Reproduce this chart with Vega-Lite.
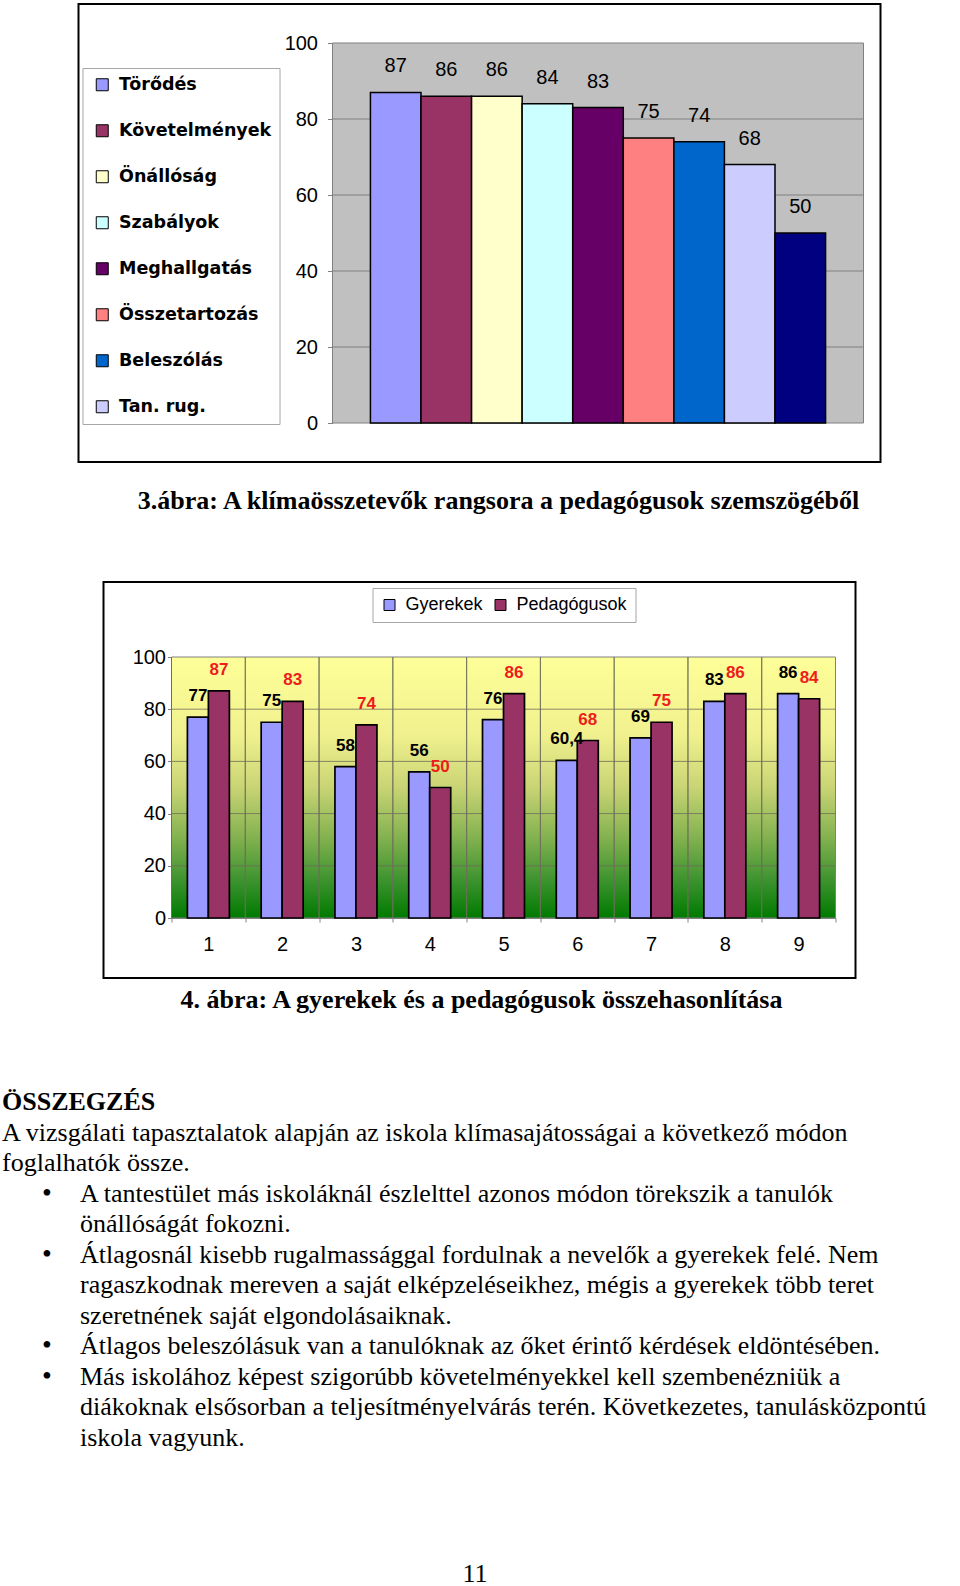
{
  "$schema": "https://vega.github.io/schema/vega-lite/v6.json",
  "background": "#ffffff",
  "padding": {"left": 0, "right": 0, "top": 3, "bottom": 0},
  "spacing": 66,
  "center": true,
  "resolve": {"scale": {"color": "independent"}, "legend": {"color": "independent"}},
  "datasets": {
    "pedagogus": [
      {"tenyezo": "Törődés", "ertek": 87},
      {"tenyezo": "Követelmények", "ertek": 86},
      {"tenyezo": "Önállóság", "ertek": 86},
      {"tenyezo": "Szabályok", "ertek": 84},
      {"tenyezo": "Meghallgatás", "ertek": 83},
      {"tenyezo": "Összetartozás", "ertek": 75},
      {"tenyezo": "Beleszólás", "ertek": 74},
      {"tenyezo": "Tan. rug.", "ertek": 68},
      {"tenyezo": "9.", "ertek": 50}
    ],
    "osszehasonlitas": [
      {"kat": "1", "csoport": "Gyerekek", "ertek": 77},
      {"kat": "1", "csoport": "Pedagógusok", "ertek": 87},
      {"kat": "2", "csoport": "Gyerekek", "ertek": 75},
      {"kat": "2", "csoport": "Pedagógusok", "ertek": 83},
      {"kat": "3", "csoport": "Gyerekek", "ertek": 58},
      {"kat": "3", "csoport": "Pedagógusok", "ertek": 74},
      {"kat": "4", "csoport": "Gyerekek", "ertek": 56},
      {"kat": "4", "csoport": "Pedagógusok", "ertek": 50},
      {"kat": "5", "csoport": "Gyerekek", "ertek": 76},
      {"kat": "5", "csoport": "Pedagógusok", "ertek": 86},
      {"kat": "6", "csoport": "Gyerekek", "ertek": 60.4},
      {"kat": "6", "csoport": "Pedagógusok", "ertek": 68},
      {"kat": "7", "csoport": "Gyerekek", "ertek": 69},
      {"kat": "7", "csoport": "Pedagógusok", "ertek": 75},
      {"kat": "8", "csoport": "Gyerekek", "ertek": 83},
      {"kat": "8", "csoport": "Pedagógusok", "ertek": 86},
      {"kat": "9", "csoport": "Gyerekek", "ertek": 86},
      {"kat": "9", "csoport": "Pedagógusok", "ertek": 84}
    ],
    "racs": [{"ertek": 20}, {"ertek": 40}, {"ertek": 60}, {"ertek": 80}],
    "szoveg": [
      {"sor": 0, "resz": "cim", "tipus": "bekezdes", "jel": false, "szoveg": "ÖSSZEGZÉS"},
      {"sor": 1, "resz": "torzs", "tipus": "bekezdes", "jel": false, "szoveg": "A vizsgálati tapasztalatok alapján az iskola klímasajátosságai a következő módon"},
      {"sor": 2, "resz": "torzs", "tipus": "bekezdes", "jel": false, "szoveg": "foglalhatók össze."},
      {"sor": 3, "resz": "torzs", "tipus": "pont", "jel": true, "szoveg": "A tantestület más iskoláknál észlelttel azonos módon törekszik a tanulók"},
      {"sor": 4, "resz": "torzs", "tipus": "pont", "jel": false, "szoveg": "önállóságát fokozni."},
      {"sor": 5, "resz": "torzs", "tipus": "pont", "jel": true, "szoveg": "Átlagosnál kisebb rugalmassággal fordulnak a nevelők a gyerekek felé. Nem"},
      {"sor": 6, "resz": "torzs", "tipus": "pont", "jel": false, "szoveg": "ragaszkodnak mereven a saját elképzeléseikhez, mégis a gyerekek több teret"},
      {"sor": 7, "resz": "torzs", "tipus": "pont", "jel": false, "szoveg": "szeretnének saját elgondolásaiknak."},
      {"sor": 8, "resz": "torzs", "tipus": "pont", "jel": true, "szoveg": "Átlagos beleszólásuk van a tanulóknak az őket érintő kérdések eldöntésében."},
      {"sor": 9, "resz": "torzs", "tipus": "pont", "jel": true, "szoveg": "Más iskolához képest szigorúbb követelményekkel kell szembenézniük a"},
      {"sor": 10, "resz": "torzs", "tipus": "pont", "jel": false, "szoveg": "diákoknak elsősorban a teljesítményelvárás terén. Következetes, tanulásközpontú"},
      {"sor": 11, "resz": "torzs", "tipus": "pont", "jel": false, "szoveg": "iskola vagyunk."}
    ]
  },
  "vconcat": [
    {
      "width": 802,
      "height": 458,
      "view": {"stroke": "#000000", "strokeWidth": 2},
      "title": {
        "text": "3.ábra: A klímaösszetevők rangsora a pedagógusok szemszögéből",
        "orient": "bottom", "anchor": "middle", "baseline": "alphabetic",
        "offset": 47, "dx": 19,
        "font": "Liberation Serif", "fontSize": 26, "fontWeight": "bold", "color": "#000000"
      },
      "resolve": {"scale": {"x": "independent"}},
      "layer": [
        {
          "data": {"values": [{}]},
          "mark": {"type": "rect", "fill": "#c0c0c0", "stroke": "#808080", "strokeWidth": 1},
          "encoding": {
            "x": {"datum": 0, "type": "quantitative", "scale": {"domain": [0, 1], "range": [254, 785]}, "axis": null},
            "x2": {"datum": 1},
            "y": {
              "datum": 0, "type": "quantitative",
              "scale": {"domain": [0, 100], "range": [419, 39], "nice": false},
              "axis": {
                "orient": "left", "offset": -254, "values": [0, 20, 40, 60, 80, 100],
                "grid": false, "domainColor": "#808080", "tickColor": "#808080",
                "tickSize": 5, "labelPadding": 10, "labelFontSize": 20,
                "labelFont": "Liberation Sans", "labelColor": "#000000", "title": null
              }
            },
            "y2": {"datum": 100}
          }
        },
        {
          "data": {"name": "racs"},
          "mark": {"type": "rule", "color": "#808080", "strokeWidth": 1},
          "encoding": {
            "x": {"datum": 0, "type": "quantitative", "scale": {"domain": [0, 1], "range": [254, 785]}, "axis": null},
            "x2": {"datum": 1},
            "y": {"field": "ertek", "type": "quantitative", "scale": {"domain": [0, 100], "range": [419, 39], "nice": false}}
          }
        },
        {
          "data": {"name": "pedagogus"},
          "encoding": {
            "x": {
              "field": "tenyezo", "type": "nominal", "sort": null,
              "scale": {"range": [254, 785], "paddingInner": 0, "paddingOuter": 0.75},
              "axis": null
            },
            "y": {"field": "ertek", "type": "quantitative", "scale": {"domain": [0, 100], "range": [419, 39], "nice": false}}
          },
          "layer": [
            {
              "mark": {"type": "bar", "stroke": "#000000", "strokeWidth": 1.5},
              "encoding": {
                "color": {
                  "field": "tenyezo", "type": "nominal",
                  "scale": {
                    "domain": ["Törődés", "Követelmények", "Önállóság", "Szabályok", "Meghallgatás", "Összetartozás", "Beleszólás", "Tan. rug.", "9."],
                    "range": ["#9999ff", "#993366", "#ffffcc", "#ccffff", "#660066", "#ff8080", "#0066cc", "#ccccff", "#000080"]
                  },
                  "legend": {
                    "orient": "none", "legendX": 4, "legendY": 64, "direction": "vertical",
                    "values": ["Törődés", "Követelmények", "Önállóság", "Szabályok", "Meghallgatás", "Összetartozás", "Beleszólás", "Tan. rug."],
                    "title": null, "padding": 8, "strokeColor": "#a6a6a6", "fillColor": "#ffffff",
                    "symbolType": "square", "symbolSize": 144, "symbolOffset": 3,
                    "symbolStrokeColor": "#000000", "symbolStrokeWidth": 1,
                    "labelFont": "DejaVu Sans", "labelFontWeight": "bold", "labelFontSize": 17.5,
                    "labelColor": "#000000", "labelOffset": 8, "labelLimit": 300, "rowPadding": 27
                  }
                }
              }
            },
            {
              "mark": {"type": "text", "dy": -26, "fontSize": 20, "font": "Liberation Sans", "baseline": "middle", "color": "#000000"},
              "encoding": {"text": {"field": "ertek", "type": "quantitative"}}
            }
          ]
        }
      ]
    },
    {
      "width": 752,
      "height": 396,
      "view": {"stroke": "#000000", "strokeWidth": 2},
      "title": {
        "text": "4. ábra: A gyerekek és a pedagógusok összehasonlítása",
        "orient": "bottom", "anchor": "middle", "baseline": "alphabetic",
        "offset": 30, "dx": 2,
        "font": "Liberation Serif", "fontSize": 26, "fontWeight": "bold", "color": "#000000"
      },
      "resolve": {"scale": {"x": "independent"}},
      "layer": [
        {
          "data": {"values": [{}]},
          "mark": {
            "type": "rect", "stroke": "#808080", "strokeWidth": 1,
            "fill": {
              "gradient": "linear", "x1": 0, "y1": 0, "x2": 0, "y2": 1,
              "stops": [
                {"offset": 0, "color": "#ffff99"},
                {"offset": 0.3, "color": "#f0f08e"},
                {"offset": 0.5, "color": "#c9d474"},
                {"offset": 0.7, "color": "#80b04e"},
                {"offset": 0.85, "color": "#3f9430"},
                {"offset": 1, "color": "#007a00"}
              ]
            }
          },
          "encoding": {
            "x": {"datum": 0, "type": "quantitative", "scale": {"domain": [0, 1], "range": [68, 732]}, "axis": null},
            "x2": {"datum": 1},
            "y": {
              "datum": 0, "type": "quantitative",
              "scale": {"domain": [0, 100], "range": [336, 75], "nice": false},
              "axis": {
                "orient": "left", "offset": -68, "values": [0, 20, 40, 60, 80, 100],
                "grid": false, "domainColor": "#808080", "tickColor": "#808080",
                "tickSize": 4, "labelPadding": 2, "labelFontSize": 20,
                "labelFont": "Liberation Sans", "labelColor": "#000000", "title": null
              }
            },
            "y2": {"datum": 100}
          }
        },
        {
          "data": {"name": "racs"},
          "mark": {"type": "rule", "color": "#6e6e5a", "strokeWidth": 1, "opacity": 0.8},
          "encoding": {
            "x": {"datum": 0, "type": "quantitative", "scale": {"domain": [0, 1], "range": [68, 732]}, "axis": null},
            "x2": {"datum": 1},
            "y": {"field": "ertek", "type": "quantitative", "scale": {"domain": [0, 100], "range": [336, 75], "nice": false}}
          }
        },
        {
          "data": {"name": "osszehasonlitas"},
          "encoding": {
            "x": {
              "field": "kat", "type": "ordinal",
              "scale": {"range": [68, 732], "paddingInner": 0, "paddingOuter": 0},
              "axis": {
                "orient": "bottom", "offset": -60, "tickBand": "extent", "tickSize": 4,
                "labelPadding": 12, "labelFontSize": 20, "labelFont": "Liberation Sans",
                "labelColor": "#000000", "labelAngle": 0, "domainColor": "#808080",
                "tickColor": "#808080", "grid": false, "title": null
              }
            },
            "y": {"field": "ertek", "type": "quantitative", "scale": {"domain": [0, 100], "range": [336, 75], "nice": false}}
          },
          "layer": [
            {
              "mark": {"type": "rule", "color": "#6e6e5a", "strokeWidth": 1, "opacity": 0.8},
              "encoding": {
                "x": {"field": "kat", "type": "ordinal", "bandPosition": 0},
                "y": {"datum": 0, "type": "quantitative"},
                "y2": {"datum": 100}
              }
            },
            {
              "mark": {"type": "bar", "stroke": "#000000", "strokeWidth": 1.7},
              "encoding": {
                "xOffset": {"field": "csoport", "type": "nominal", "scale": {"paddingInner": 0, "paddingOuter": 0.757}},
                "color": {
                  "field": "csoport", "type": "nominal",
                  "scale": {"domain": ["Gyerekek", "Pedagógusok"], "range": ["#9999ff", "#993366"]},
                  "legend": {
                    "orient": "none", "legendX": 269, "legendY": 6, "direction": "horizontal",
                    "title": null, "padding": 8, "strokeColor": "#a6a6a6", "fillColor": "#ffffff",
                    "symbolType": "square", "symbolSize": 121,
                    "symbolStrokeColor": "#000000", "symbolStrokeWidth": 1,
                    "labelFont": "Liberation Sans", "labelFontSize": 18, "labelColor": "#000000",
                    "labelOffset": 7, "columnPadding": 8
                  }
                }
              }
            },
            {
              "mark": {"type": "text", "dy": -21, "fontSize": 17, "fontWeight": "bold", "font": "Liberation Sans", "baseline": "middle"},
              "encoding": {
                "xOffset": {"field": "csoport", "type": "nominal", "scale": {"paddingInner": 0, "paddingOuter": 0.757}},
                "text": {"field": "ertek", "type": "quantitative", "format": "~g"},
                "color": {"condition": {"test": "datum.csoport === 'Pedagógusok'", "value": "#ee1c1c"}, "value": "#000000"}
              }
            }
          ]
        }
      ]
    },
    {
      "width": 960,
      "height": 396,
      "view": {"stroke": null},
      "title": {
        "text": "11", "orient": "bottom", "anchor": "middle", "baseline": "alphabetic",
        "offset": 106, "dx": -5,
        "font": "Liberation Serif", "fontSize": 26, "fontWeight": "normal", "color": "#000000"
      },
      "data": {"name": "szoveg"},
      "encoding": {
        "x": {"field": "tipus", "type": "nominal", "scale": {"domain": ["bekezdes", "pont"], "range": [2, 80], "padding": 0}, "axis": null},
        "y": {"field": "sor", "type": "ordinal", "scale": {"padding": 1}, "axis": null}
      },
      "layer": [
        {
          "transform": [{"filter": "datum.resz === 'cim'"}],
          "mark": {"type": "text", "align": "left", "baseline": "alphabetic", "font": "Liberation Serif", "fontSize": 26, "fontWeight": "bold", "color": "#000000"},
          "encoding": {"text": {"field": "szoveg"}}
        },
        {
          "transform": [{"filter": "datum.resz === 'torzs'"}],
          "mark": {"type": "text", "align": "left", "baseline": "alphabetic", "font": "Liberation Serif", "fontSize": 26, "color": "#000000"},
          "encoding": {"text": {"field": "szoveg"}}
        },
        {
          "transform": [{"filter": "datum.jel"}],
          "mark": {"type": "text", "text": "•", "align": "center", "dx": -33, "baseline": "alphabetic", "font": "Liberation Serif", "fontSize": 28, "color": "#000000"}
        }
      ]
    }
  ],
  "config": {
    "view": {"stroke": null},
    "locale": {"number": {"decimal": ",", "thousands": " ", "grouping": [3], "currency": ["", " Ft"]}},
    "axis": {"labelColor": "#000000"}
  }
}
